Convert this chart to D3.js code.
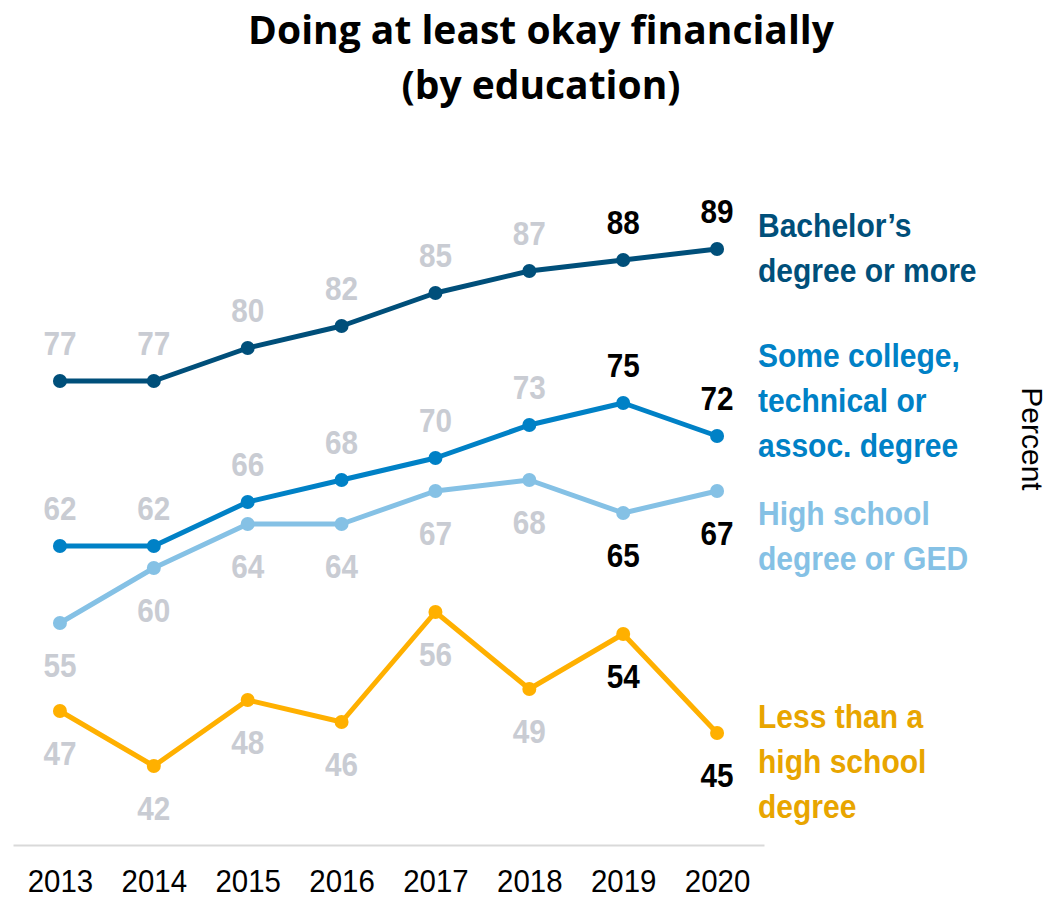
<!DOCTYPE html>
<html>
<head>
<meta charset="utf-8">
<script src="https://cdn.jsdelivr.net/npm/d3@7"></script>
<style>
  body { margin: 0; background: #fff; }
  svg { display: block; }
</style>
</head>
<body>
<div id="chart"></div>
<script>
const AREA_WIDTH = 1056;
const AREA_HEIGHT = 897;
const SANS = "'Liberation Sans', Arial, sans-serif";

const years = [2013, 2014, 2015, 2016, 2017, 2018, 2019, 2020];
const bachelors = [77, 77, 80, 82, 85, 87, 88, 89];
const someCollege = [62, 62, 66, 68, 70, 73, 75, 72];
const highSchool = [55, 60, 64, 64, 67, 68, 65, 67];
const lessThanHS = [47, 42, 48, 46, 56, 49, 54, 45];

const seriesNames = [
  ['Bachelor’s', 'degree or more'],
  ['Some college,', 'technical or', 'assoc. degree'],
  ['High school', 'degree or GED'],
  ['Less than a', 'high school', 'degree']
];
const seriesColors = ['#004f7a', '#0081c6', '#85c1e5', '#ffb000'];
const nameColors = ['#004f7a', '#0081c6', '#85c1e5', '#e8a500'];
// label above (-1) or below (1) the point
const labelSide = [-1, -1, 1, 1];
const nameBaselines = [237, 367, 525, 728];

const series = [bachelors, someCollege, highSchool, lessThanHS].map((values, i) => ({
  values: values.map((v, j) => ({ year: years[j], value: v })),
  name: seriesNames[i],
  color: seriesColors[i],
  nameColor: nameColors[i],
  side: labelSide[i],
  nameY: nameBaselines[i]
}));

const svg = d3.select('#chart')
  .append('svg')
  .attr('width', AREA_WIDTH)
  .attr('height', AREA_HEIGHT);

// title
svg.append('text')
  .attr('x', 541).attr('y', 44)
  .attr('text-anchor', 'middle')
  .style('font-family', "'Open Sans', 'Noto Sans', sans-serif")
  .style('font-weight', 'bold')
  .style('font-size', '39px')
  .text('Doing at least okay financially');
svg.append('text')
  .attr('x', 541).attr('y', 99)
  .attr('text-anchor', 'middle')
  .style('font-family', "'Open Sans', 'Noto Sans', sans-serif")
  .style('font-weight', 'bold')
  .style('font-size', '39px')
  .text('(by education)');

const x = d3.scalePoint()
  .domain(years)
  .range([13, 764])
  .padding(0.5);

const y = d3.scaleLinear()
  .domain([40, 92])
  .range([788, 216]);

const xAxis = svg.append('g')
  .attr('transform', 'translate(0, 845)')
  .call(d3.axisBottom(x).tickSize(0).tickSizeOuter(0));
xAxis.select('.domain')
  .attr('stroke', '#d9d9d9')
  .attr('stroke-width', 2);
xAxis.selectAll('text')
  .attr('y', 47)
  .attr('dy', 0)
  .attr('fill', '#000')
  .attr('transform', 'scale(0.95,1)')
  .style('font-family', SANS)
  .style('font-size', '31px');

const line = d3.line()
  .x(d => x(d.year))
  .y(d => y(d.value));

const groups = svg.selectAll('g.series')
  .data(series)
  .enter()
  .append('g')
  .attr('class', 'series');

groups.append('path')
  .attr('d', d => line(d.values))
  .attr('fill', 'none')
  .attr('stroke', d => d.color)
  .attr('stroke-width', 5)
  .attr('stroke-linejoin', 'round');

groups.selectAll('circle')
  .data(d => d.values.map(p => ({ ...p, color: d.color })))
  .enter()
  .append('circle')
  .attr('cx', d => x(d.year))
  .attr('cy', d => y(d.value))
  .attr('r', 7)
  .attr('fill', d => d.color);

groups.selectAll('text.value')
  .data(d => d.values.map(p => ({ ...p, side: d.side })))
  .enter()
  .append('text')
  .attr('class', 'value')
  .attr('transform', d => `translate(${x(d.year)},${y(d.value) + (d.side < 0 ? -26 : 54)}) scale(0.9,1)`)
  .attr('text-anchor', 'middle')
  .attr('fill', d => d.year >= 2019 ? '#000' : '#c9ccd3')
  .style('font-family', SANS)
  .style('font-weight', 'bold')
  .style('font-size', '33px')
  .text(d => d.value);

groups.each(function (d) {
  const t = d3.select(this).append('text')
    .attr('transform', 'translate(758,0) scale(0.91,1)')
    .attr('fill', d.nameColor)
    .style('font-family', SANS)
    .style('font-weight', 'bold')
    .style('font-size', '33px');
  d.name.forEach((ln, i) => {
    t.append('tspan')
      .attr('x', 0)
      .attr('y', d.nameY + i * 45)
      .text(ln);
  });
});

svg.append('text')
  .attr('transform', 'translate(1022, 439) rotate(90)')
  .attr('text-anchor', 'middle')
  .style('font-family', SANS)
  .style('font-size', '30px')
  .text('Percent');
</script>
</body>
</html>
